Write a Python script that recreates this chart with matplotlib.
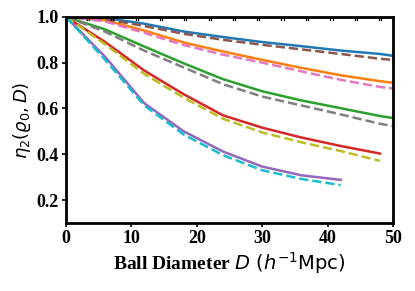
import matplotlib
matplotlib.use("Agg")
import matplotlib.pyplot as plt

# Ball diameters (h^-1 Mpc)
D_long = [0, 6, 12, 18, 24, 30, 36, 42, 48, 50]
D_mid = [0, 6, 12, 18, 24, 30, 36, 42, 48]
D_short = [0, 6, 12, 18, 24, 30, 36, 42]

# solid series
blue = [1.0, 0.995, 0.970, 0.936, 0.912, 0.890, 0.872, 0.853, 0.838, 0.830]
orange = [1.0, 0.985, 0.940, 0.888, 0.849, 0.812, 0.777, 0.745, 0.719, 0.712]
green = [1.0, 0.945, 0.870, 0.797, 0.728, 0.675, 0.635, 0.601, 0.567, 0.558]
red = [1.0, 0.890, 0.765, 0.662, 0.570, 0.516, 0.473, 0.436, 0.403]
purple = [1.0, 0.825, 0.622, 0.500, 0.412, 0.346, 0.308, 0.288]
# dashed series
brown = [1.0, 0.990, 0.960, 0.926, 0.900, 0.878, 0.858, 0.838, 0.817, 0.812]
pink = [1.0, 0.980, 0.930, 0.877, 0.835, 0.800, 0.762, 0.725, 0.694, 0.687]
gray = [1.0, 0.935, 0.852, 0.779, 0.706, 0.652, 0.613, 0.574, 0.533, 0.523]
olive = [1.0, 0.880, 0.750, 0.647, 0.555, 0.495, 0.452, 0.414, 0.371]
cyan = [1.0, 0.812, 0.612, 0.486, 0.396, 0.330, 0.292, 0.265]

top_ticks = [3.36, 7.08, 10.8, 14.5, 18.2, 22.0, 25.7, 29.4, 33.1, 36.8, 40.6, 44.3, 48.0]
xticks = [0, 10, 20, 30, 40, 50]
yticks = [0.2, 0.4, 0.6, 0.8, 1.0]

fig = plt.figure(figsize=(4.15, 2.91), dpi=100)
ax = fig.add_axes([0.159, 0.234, 0.788, 0.708])

lw = 1.8
ax.plot(D_long, blue, color="#1f77b4", lw=lw)
ax.plot(D_long, orange, color="#ff7f0e", lw=lw)
ax.plot(D_long, green, color="#2ca02c", lw=lw)
ax.plot(D_mid, red, color="#d62728", lw=lw)
ax.plot(D_short, purple, color="#9467bd", lw=lw)
ax.plot(D_long, brown, color="#8c564b", lw=lw, ls="--")
ax.plot(D_long, pink, color="#e377c2", lw=lw, ls="--")
ax.plot(D_long, gray, color="#7f7f7f", lw=lw, ls="--")
ax.plot(D_mid, olive, color="#bcbd22", lw=lw, ls="--")
ax.plot(D_short, cyan, color="#17becf", lw=lw, ls="--")

ax.set_xlim(0, 50)
ax.set_ylim(0.1, 1.0)
ax.set_xticks(xticks)
ax.set_yticks(yticks)
ax.set_xticklabels([str(v) for v in xticks])
ax.set_yticklabels([f"{v:.1f}" for v in yticks])
for lab in ax.get_xticklabels() + ax.get_yticklabels():
    lab.set_fontfamily("Liberation Serif")
    lab.set_fontweight("bold")
    lab.set_fontsize(13)
ax.tick_params(axis="both", direction="out", length=3, width=1.2, pad=2)

for s in ax.spines.values():
    s.set_linewidth(2.0)

# paired inward ticks along the top spine
for p in top_ticks:
    for dx in (-0.17, 0.17):
        ax.plot([p + dx, p + dx], [1.0, 0.988], color="black", lw=0.9,
                clip_on=False, zorder=5)

ax.set_xlabel(r"Ball Diameter $D\ (h^{-1}\mathrm{Mpc})$", fontsize=14,
              fontfamily="Liberation Serif", fontweight="bold", labelpad=2)
ax.set_ylabel(r"$\eta_2(\varrho_0, D)$", fontsize=13, labelpad=3)

fig.savefig("out.png", dpi=100)
